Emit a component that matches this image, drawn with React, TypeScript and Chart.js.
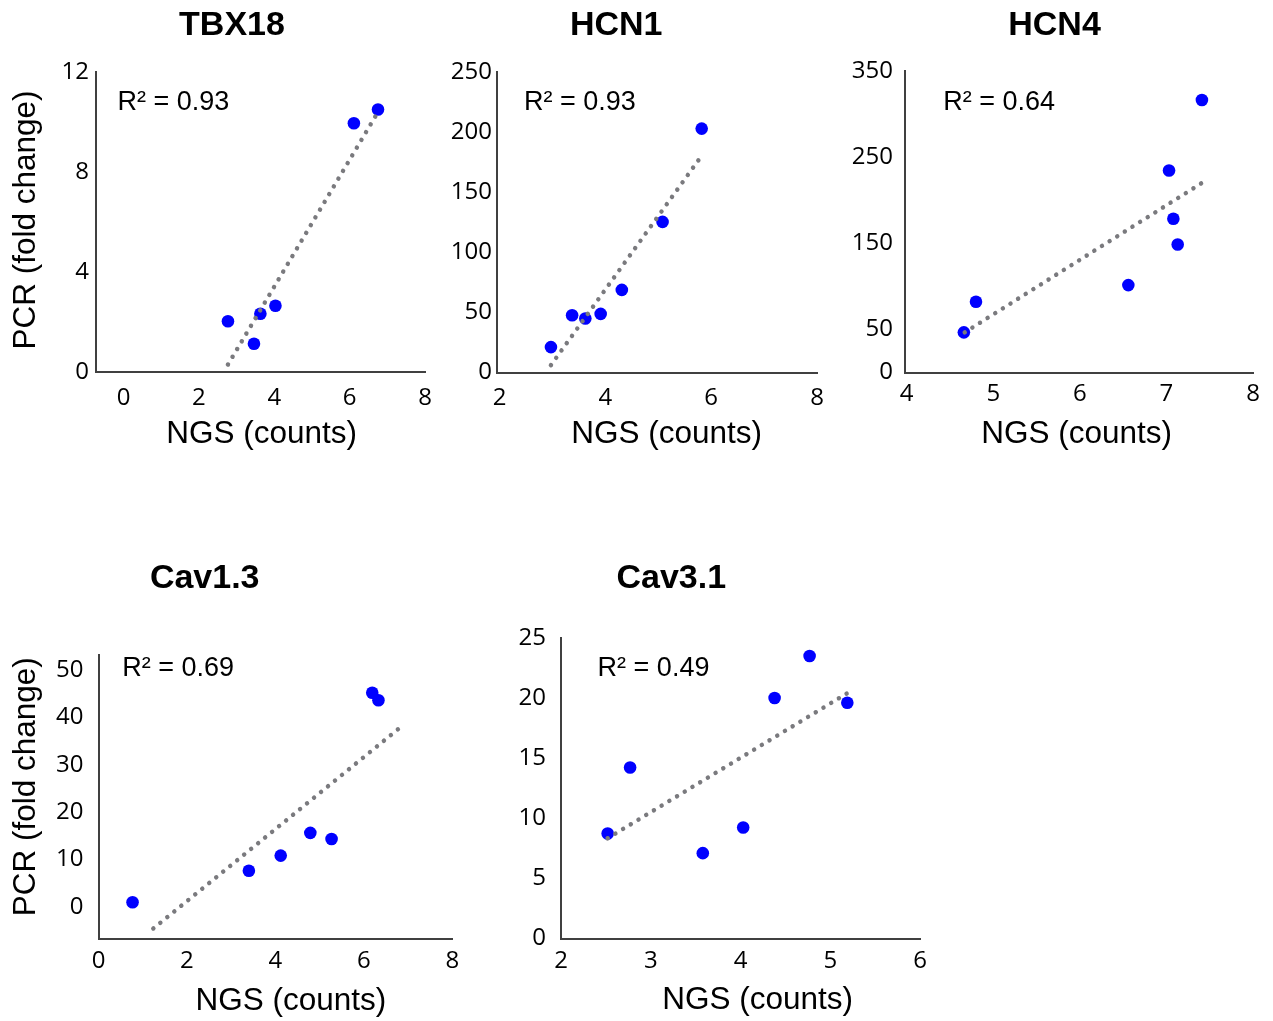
import React, { useEffect, useRef } from "react";
import { Chart, registerables } from "chart.js";

Chart.register(...registerables);

// ---------- DATA ----------
// TBX18
const tbx18NGS = [2.77, 3.46, 3.63, 4.03, 6.11, 6.75];
const tbx18PCR = [2.03, 1.13, 2.33, 2.65, 9.95, 10.5];
const tbx18TrendNGS = [2.77, 6.75];
const tbx18TrendPCR = [0.3, 10.4];
const tbx18XTicks = [0, 2, 4, 6, 8];
const tbx18YTicks = [0, 4, 8, 12];
const tbx18R2 = "R² = 0.93";

// HCN1
const hcn1NGS = [2.97, 3.37, 3.62, 3.91, 4.31, 5.08, 5.82];
const hcn1PCR = [20.6, 47.2, 44.5, 48.3, 68.3, 125, 202.8];
const hcn1TrendNGS = [2.97, 5.8];
const hcn1TrendPCR = [5.6, 179];
const hcn1XTicks = [2, 4, 6, 8];
const hcn1YTicks = [0, 50, 100, 150, 200, 250];
const hcn1R2 = "R² = 0.93";

// HCN4
const hcn4NGS = [4.66, 4.8, 6.56, 7.03, 7.08, 7.13, 7.41];
const hcn4PCR = [45.8, 81.4, 100.8, 234.2, 178, 148, 316.3];
const hcn4TrendNGS = [4.67, 7.43];
const hcn4TrendPCR = [45.8, 221];
const hcn4XTicks = [4, 5, 6, 7, 8];
const hcn4YTicks = [0, 50, 150, 250, 350];
const hcn4R2 = "R² = 0.64";

// Cav1.3
const cav13NGS = [0.77, 3.4, 4.12, 4.79, 5.27, 6.19, 6.33];
const cav13PCR = [0.93, 7.6, 10.8, 15.6, 14.3, 45.2, 43.6];
const cav13TrendNGS = [1.24, 6.84];
const cav13TrendPCR = [-4.6, 38];
const cav13XTicks = [0, 2, 4, 6, 8];
const cav13YTicks = [0, 10, 20, 30, 40, 50];
const cav13R2 = "R² = 0.69";

// Cav3.1
const cav31NGS = [2.52, 2.77, 3.58, 4.03, 4.38, 4.77, 5.19];
const cav31PCR = [8.7, 14.2, 7.06, 9.2, 20.0, 23.5, 19.6];
const cav31TrendNGS = [2.52, 5.19];
const cav31TrendPCR = [8.3, 20.4];
const cav31XTicks = [2, 3, 4, 5, 6];
const cav31YTicks = [0, 5, 10, 15, 20, 25];
const cav31R2 = "R² = 0.49";

const xAxisTitle = "NGS (counts)";
const yAxisTitle = "PCR (fold change)";

// ---------- LAYOUT / STYLE ----------
type Panel = {
  title: string;
  xs: number[];
  ys: number[];
  tx: number[];
  ty: number[];
  xTicks: number[];
  yTicks: number[];
  r2: string;
  box: [number, number, number, number];
  area: [number, number, number, number];
  xRange: [number, number];
  yRange: [number, number];
  xPad: number;
  yPad: number;
  titlePos: [number, number];
  r2Pos: [number, number];
  xTitlePos: [number, number];
  yTitlePos?: [number, number];
};

const panels: Panel[] = [
  {
    title: "TBX18", xs: tbx18NGS, ys: tbx18PCR, tx: tbx18TrendNGS, ty: tbx18TrendPCR,
    xTicks: tbx18XTicks, yTicks: tbx18YTicks, r2: tbx18R2,
    box: [0, 0, 444, 470], area: [96, 72, 430, 372], xRange: [-0.73, 8], yRange: [0, 12],
    xPad: 12, yPad: 7, titlePos: [232, 35], r2Pos: [117.5, 110], xTitlePos: [261.7, 443.3], yTitlePos: [35, 220],
  },
  {
    title: "HCN1", xs: hcn1NGS, ys: hcn1PCR, tx: hcn1TrendNGS, ty: hcn1TrendPCR,
    xTicks: hcn1XTicks, yTicks: hcn1YTicks, r2: hcn1R2,
    box: [444, 0, 392, 470], area: [497, 72, 817, 373], xRange: [1.95, 8], yRange: [-1, 250],
    xPad: 10.5, yPad: 5, titlePos: [616.2, 35], r2Pos: [524, 110], xTitlePos: [666.7, 443.3],
  },
  {
    title: "HCN4", xs: hcn4NGS, ys: hcn4PCR, tx: hcn4TrendNGS, ty: hcn4TrendPCR,
    xTicks: hcn4XTicks, yTicks: hcn4YTicks, r2: hcn4R2,
    box: [838, 0, 432, 470], area: [905, 71, 1253, 373], xRange: [3.98, 8], yRange: [-1.5, 350],
    xPad: 7, yPad: 12, titlePos: [1054.5, 35], r2Pos: [943.3, 110], xTitlePos: [1076.7, 443.3],
  },
  {
    title: "Cav1.3", xs: cav13NGS, ys: cav13PCR, tx: cav13TrendNGS, ty: cav13TrendPCR,
    xTicks: cav13XTicks, yTicks: cav13YTicks, r2: cav13R2,
    box: [0, 520, 476, 499], area: [98.5, 655, 452.3, 939], xRange: [0, 8], yRange: [-6.82, 53.17],
    xPad: 8, yPad: 15, titlePos: [204.7, 587.7], r2Pos: [122.3, 676], xTitlePos: [290.8, 1010], yTitlePos: [35, 786.7],
  },
  {
    title: "Cav3.1", xs: cav31NGS, ys: cav31PCR, tx: cav31TrendNGS, ty: cav31TrendPCR,
    xTicks: cav31XTicks, yTicks: cav31YTicks, r2: cav31R2,
    box: [476, 520, 484, 499], area: [561, 638, 920, 939], xRange: [2, 6], yRange: [-0.1, 25],
    xPad: 8, yPad: 15, titlePos: [671.3, 587.7], r2Pos: [597.6, 676], xTitlePos: [757.7, 1009.3],
  },
];

const AXIS_COLOR = "#404040";
const POINT_COLOR = "#0000ff";
const TREND_COLOR = "#7a7a7e";
const TICK_FONT = { family: "'Open Sans', 'Noto Sans', sans-serif", size: 24 };
const ARIAL = "'Liberation Sans', Arial, sans-serif";

function makeTextPlugin(p: Panel) {
  return {
    id: "panelText",
    afterDraw(chart: any) {
      const ctx: CanvasRenderingContext2D = chart.ctx;
      const ox = p.box[0];
      const oy = p.box[1];
      ctx.save();
      ctx.fillStyle = "#000";
      ctx.textBaseline = "alphabetic";
      // panel title
      ctx.font = `bold 34px ${ARIAL}`;
      ctx.textAlign = "center";
      ctx.fillText(p.title, p.titlePos[0] - ox, p.titlePos[1] - oy);
      // R² annotation
      ctx.font = `27px ${ARIAL}`;
      ctx.textAlign = "left";
      ctx.fillText(p.r2, p.r2Pos[0] - ox, p.r2Pos[1] - oy);
      // x axis title
      ctx.font = `31.5px ${ARIAL}`;
      ctx.textAlign = "center";
      ctx.fillText(xAxisTitle, p.xTitlePos[0] - ox, p.xTitlePos[1] - oy);
      // y axis title
      if (p.yTitlePos) {
        ctx.save();
        ctx.translate(p.yTitlePos[0] - ox, p.yTitlePos[1] - oy);
        ctx.rotate(-Math.PI / 2);
        ctx.textAlign = "center";
        ctx.fillText(yAxisTitle, 0, 0);
        ctx.restore();
      }
      ctx.restore();
    },
  };
}

function ScatterPanel({ p }: { p: Panel }) {
  const ref = useRef<HTMLCanvasElement>(null);
  useEffect(() => {
    const [bx, by, bw, bh] = p.box;
    const [L, T, R, B] = p.area;
    const yScaleWidth = L - bx;
    const xScaleHeight = by + bh - B;
    const chart = new Chart(ref.current as HTMLCanvasElement, {
      type: "scatter",
      data: {
        datasets: [
          {
            type: "line",
            data: p.tx.map((x, i) => ({ x, y: p.ty[i] })),
            showLine: true,
            borderColor: TREND_COLOR,
            borderWidth: 4.5,
            borderDash: [0.01, 9],
            borderCapStyle: "round",
            pointRadius: 0,
            fill: false,
            tension: 0,
          } as any,
          {
            type: "scatter",
            data: p.xs.map((x, i) => ({ x, y: p.ys[i] })),
            backgroundColor: POINT_COLOR,
            borderColor: POINT_COLOR,
            borderWidth: 0,
            pointRadius: 6.3,
            pointHoverRadius: 6.3,
          } as any,
        ],
      },
      options: {
        animation: false,
        responsive: false,
        devicePixelRatio: 1,
        events: [],
        layout: {
          padding: { left: 0, top: T - by, right: bx + bw - R, bottom: 0 },
        },
        plugins: {
          legend: { display: false },
          tooltip: { enabled: false },
          title: { display: false },
        },
        scales: {
          x: {
            type: "linear",
            min: p.xRange[0],
            max: p.xRange[1],
            afterBuildTicks: (s: any) => {
              s.ticks = p.xTicks.map((v) => ({ value: v }));
            },
            afterFit: (s: any) => {
              s.height = xScaleHeight;
            },
            grid: { display: false, drawTicks: false },
            border: { display: true, color: AXIS_COLOR, width: 2 },
            ticks: {
              autoSkip: false,
              maxRotation: 0,
              minRotation: 0,
              padding: p.xPad,
              color: "#000",
              font: TICK_FONT,
              callback: (v: any) => String(v),
            },
          },
          y: {
            type: "linear",
            min: p.yRange[0],
            max: p.yRange[1],
            afterBuildTicks: (s: any) => {
              s.ticks = p.yTicks.map((v) => ({ value: v }));
            },
            afterFit: (s: any) => {
              s.width = yScaleWidth;
            },
            grid: { display: false, drawTicks: false },
            border: { display: true, color: AXIS_COLOR, width: 2 },
            ticks: {
              autoSkip: false,
              padding: p.yPad,
              color: "#000",
              font: TICK_FONT,
              callback: (v: any) => String(v),
            },
          },
        },
      } as any,
      plugins: [makeTextPlugin(p)],
    });
    return () => chart.destroy();
  }, [p]);
  const [bx, by, bw, bh] = p.box;
  return (
    <div style={{ position: "absolute", left: bx, top: by, width: bw, height: bh }}>
      <canvas ref={ref} width={bw} height={bh} style={{ display: "block", width: bw, height: bh }} />
    </div>
  );
}

export default function App() {
  return (
    <div>
      {panels.map((p) => (
        <ScatterPanel key={p.title} p={p} />
      ))}
    </div>
  );
}
